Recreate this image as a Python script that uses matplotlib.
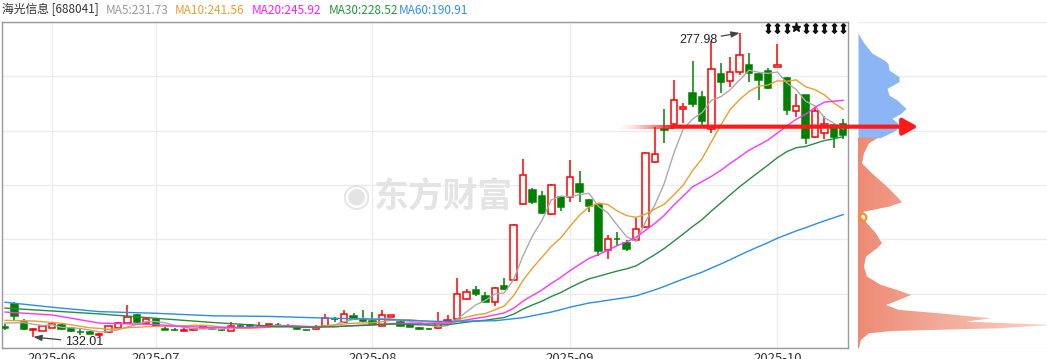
import numpy as np
import pandas as pd
import matplotlib
matplotlib.use('Agg')
import matplotlib.pyplot as plt
import matplotlib.transforms as mtransforms
from matplotlib.path import Path
from matplotlib.collections import LineCollection
from matplotlib.colors import LinearSegmentedColormap, to_rgba

plt.rcParams['font.family'] = ['Noto Sans CJK SC', 'DejaVu Sans']

stock_name = '海光信息 [688041]'

# daily bars, index 0 = first bar on the left
opens = [136.6, 147.9, 139.4, 135.4, 135.0, 136.5, 137.9, 136.2, 134.4, 134.6,
         133.0, 134.3, 136.5, 138.6, 142.6, 138.7, 140.5, 135.9, 135.5, 135.1,
         135.5, 136.2, 136.5, 135.5, 135.1, 137.4, 137.8, 137.2, 137.8, 137.9,
         137.4, 136.7, 135.5, 135.7, 137.4, 140.8, 139.1, 142.1, 140.0, 139.7,
         137.3, 141.8, 139.1, 138.1, 136.3, 136.0, 136.2, 139.7, 140.7, 150.1,
         154.6, 151.8, 148.7, 156.7, 159.4, 195.7, 202.6, 199.7, 190.9, 199.1,
         199.4, 205.5, 197.8, 195.6, 173.6, 179.3, 177.0, 178.5, 184.7, 215.9,
         231.7, 234.3, 241.4, 249.3, 247.1, 231.8, 258.3, 255.1, 259.4, 262.6,
         258.3, 259.8, 261.5, 256.4, 240.5, 248.0, 227.9, 229.8, 233.6, 234.1]
closes = [136.3, 142.3, 135.7, 136.0, 137.3, 138.1, 136.0, 134.9, 134.2, 133.6,
          133.4, 137.3, 138.6, 141.5, 139.4, 140.5, 137.2, 135.6, 135.2, 135.5,
          135.9, 137.2, 135.7, 135.2, 137.3, 137.1, 137.4, 137.5, 138.1, 137.6,
          137.2, 135.7, 135.2, 136.7, 141.3, 140.5, 143.1, 140.7, 139.7, 138.3,
          142.4, 142.6, 137.4, 137.0, 136.0, 135.7, 138.6, 140.2, 152.5, 153.5,
          152.7, 149.0, 155.4, 155.1, 185.8, 209.8, 197.0, 191.7, 205.0, 194.6,
          208.7, 201.8, 195.1, 173.5, 178.9, 179.1, 174.4, 183.7, 220.2, 219.8,
          231.3, 245.8, 242.3, 243.8, 235.7, 260.6, 254.6, 259.1, 267.4, 258.9,
          255.6, 251.8, 262.6, 241.2, 243.1, 227.4, 240.5, 234.3, 228.2, 228.8]
highs = [138.3, 148.8, 140.7, 136.3, 137.8, 138.7, 138.5, 136.8, 135.9, 134.9,
         133.7, 137.5, 139.0, 147.4, 143.1, 141.1, 141.1, 136.8, 136.1, 136.5,
         136.1, 137.5, 136.8, 135.9, 139.4, 138.3, 138.3, 139.2, 138.3, 138.7,
         138.3, 137.1, 135.6, 137.8, 143.1, 141.6, 145.0, 143.4, 145.0, 143.9,
         145.0, 142.8, 139.5, 138.5, 136.6, 136.3, 143.9, 142.6, 160.2, 155.1,
         156.5, 153.5, 156.2, 160.5, 186.3, 217.5, 203.7, 202.3, 205.7, 199.5,
         217.0, 211.7, 198.3, 196.4, 181.2, 182.3, 178.8, 189.3, 221.0, 233.0,
         241.4, 255.4, 244.2, 264.6, 250.3, 274.3, 263.7, 266.6, 277.98, 268.3,
         258.8, 261.2, 272.7, 256.7, 248.7, 248.2, 242.5, 237.9, 233.8, 236.6]
lows = [135.4, 140.2, 135.4, 132.01, 134.7, 136.1, 135.6, 134.4, 133.2, 133.4,
        132.5, 133.9, 136.3, 138.3, 138.7, 138.3, 136.8, 135.4, 134.9, 134.7,
        135.1, 135.9, 135.4, 134.9, 134.9, 136.3, 136.8, 136.8, 136.3, 136.8,
        136.6, 135.4, 134.9, 135.6, 137.1, 139.2, 138.7, 140.4, 139.2, 138.0,
        137.1, 141.6, 137.1, 136.6, 135.6, 135.4, 135.9, 139.5, 140.4, 149.8,
        151.7, 148.6, 147.0, 154.8, 158.9, 195.4, 195.9, 191.3, 190.6, 192.5,
        197.0, 197.0, 192.2, 170.9, 169.3, 175.7, 173.3, 178.1, 184.4, 215.4,
        225.0, 233.8, 234.6, 242.6, 233.5, 229.8, 249.3, 252.2, 257.8, 254.6,
        245.8, 251.1, 261.5, 238.6, 237.7, 224.7, 227.6, 227.1, 222.6, 227.0]

month_idx = [5, 16, 39, 60, 82]
month_labels = ['2025-06', '2025-07', '2025-08', '2025-09', '2025-10']

ma_windows = [5, 10, 20, 30, 60]
ma_last = [231.73, 241.56, 245.92, 228.52, 190.91]
ma_text_colors = ['#999999', '#e8a02e', '#ff19ff', '#22993a', '#2f8fe8']
ma_line_colors = ['#aaaaaa', '#e8a02e', '#ff33ff', '#2a8a45', '#2b8de3']
ma_text_x = [106, 175, 252, 329, 399]
# moving averages before the window is full (history is off the chart)
ma_head_idx = {5: [0, 2, 3], 10: [0, 3, 6], 20: [0, 5, 10, 16],
               30: [0, 5, 10, 16, 22, 28],
               60: [0, 5, 10, 16, 22, 28, 34, 40, 46, 52, 55, 58]}
ma_head_val = {5: [138.7, 138.9, 138.1], 10: [140.0, 139.7, 138.6],
               20: [144.0, 142.6, 138.7, 138.0],
               30: [145.9, 144.5, 143.1, 141.0, 139.0, 137.3],
               60: [148.7, 146.3, 144.2, 143.4, 142.2, 141.9, 141.1, 140.5,
                    139.5, 139.8, 141.3, 144.0]}

low_idx, low_val = 3, 132.01
high_idx, high_val = 78, 277.98
cost_price = 233.0
event_idx = [81, 82, 83, 84, 85, 86, 87, 88, 89]
event_star = [84]

# chip distribution (right panel)
chip_up_price = [277.9, 273.1, 268.3, 265.0, 263.4, 260.2, 257.0, 254.6, 251.4,
                 248.2, 245.8, 241.8, 239.4, 237.0, 234.6, 231.4, 229.0, 227.7]
chip_up_width = [0, 6, 14, 26, 30, 31, 41, 41, 29, 31, 39, 48, 43, 34, 40, 38, 28, 22]
chip_down_price = [227.7, 225.0, 220.2, 215.4, 210.6, 204.2, 199.4, 196.7, 194.6,
                   192.2, 189.8, 186.6, 181.8, 177.0, 174.6, 170.6, 165.8, 161.0,
                   157.0, 154.6, 152.2, 149.8, 147.4, 145.0, 143.4, 141.0, 139.4,
                   137.8, 136.2, 134.9, 133.8, 130.6, 126.7]
chip_down_width = [20, 11, 6, 4, 14, 29, 39, 44, 31, 6, 3, 9, 18, 24, 19, 8, 6, 9,
                   23, 39, 53, 41, 28, 41, 81, 133, 108, 195, 141, 34, 11, 3, 1]
chip_mark_price = 189.8

W, H = 1047, 359
ylo, yhi = 126.73, 283.26
up_c, down_c = '#ff0000', '#008000'

fig = plt.figure(figsize=(W / 100, H / 100), dpi=100)
ax = fig.add_axes([2 / W, 1 - 348 / H, 846 / W, 326 / H])
axp = fig.add_axes([858 / W, 1 - 348 / H, 189 / W, 326 / H])
ax.set_zorder(3)
axp.set_zorder(1)

n = len(closes)
idx = np.arange(n)
o = np.array(opens)
c = np.array(closes)
rising = c >= o
cols = np.where(rising, up_c, down_c)

ax.vlines(idx, lows, highs, colors=cols, lw=1.1, zorder=3)
body_lo = np.minimum(o, c)
body_h = np.maximum(np.abs(c - o), 0.05)
ax.bar(idx, body_h, bottom=body_lo, width=0.68,
       color=np.where(rising, 'white', down_c), edgecolor=cols, lw=1.1, zorder=4)

close_s = pd.Series(closes)
for w, col in zip(ma_windows, ma_line_colors):
    full = close_s.rolling(w).mean()
    xs = list(ma_head_idx[w]) + list(range(w - 1, n))
    ys = list(ma_head_val[w]) + list(full.iloc[w - 1:])
    ax.plot(xs, ys, color=col, lw=1.0, zorder=5)

# faded start of the cost line, then solid arrow into the chip panel
fade_x = np.linspace(65.0, 71.0, 40)
segs = [[(fade_x[k], cost_price), (fade_x[k + 1], cost_price)] for k in range(len(fade_x) - 1)]
fade_cols = [to_rgba('#ff1a1a', a) for a in np.linspace(0.0, 1.0, len(segs)) ** 1.5]
ax.add_collection(LineCollection(segs, colors=fade_cols, lw=3, zorder=6))
ax.annotate('', xy=(60, cost_price), xycoords=axp.transData,
            xytext=(70.9, cost_price), textcoords=ax.transData,
            arrowprops=dict(arrowstyle='-|>,head_length=0.45,head_width=0.25',
                            color='#ff1a1a', lw=3, shrinkA=0, shrinkB=0,
                            mutation_scale=20),
            annotation_clip=False, zorder=7)

# extreme value labels
ax.annotate(f'{low_val:.2f}', xy=(low_idx, low_val), xytext=(6.35, 129.6),
            ha='left', va='center', fontsize=9, color='#222222',
            family=['Liberation Sans', 'DejaVu Sans'],
            arrowprops=dict(arrowstyle='-|>,head_length=0.5,head_width=0.18',
                            color='#444444', lw=0.9, shrinkA=1, shrinkB=0,
                            mutation_scale=10), zorder=8)
ax.annotate(f'{high_val:.2f}', xy=(high_idx, high_val), xytext=(75.6, 274.6),
            ha='right', va='center', fontsize=9, color='#222222',
            family=['Liberation Sans', 'DejaVu Sans'],
            arrowprops=dict(arrowstyle='-|>,head_length=0.5,head_width=0.18',
                            color='#444444', lw=0.9, shrinkA=1, shrinkB=0,
                            mutation_scale=10), zorder=8)

# event markers along the top
tr = mtransforms.blended_transform_factory(ax.transData, ax.transAxes)
updown = Path([(0, 1), (0.45, 0.55), (0.18, 0.55), (0.18, -0.55), (0.45, -0.55), (0, -1),
               (-0.45, -0.55), (-0.18, -0.55), (-0.18, 0.55), (-0.45, 0.55), (0, 1)])
plain = [i for i in event_idx if i not in event_star]
ax.plot(plain, [0.982] * len(plain), ls='none', marker=updown, ms=7, color='#111111',
        transform=tr, zorder=8, clip_on=False)
ax.plot(event_star, [0.985] * len(event_star), ls='none', marker='*', ms=6.5,
        color='#111111', transform=tr, zorder=8, clip_on=False)

# watermark
ax.text(0.44, 0.465, '东方财富', transform=ax.transAxes, fontsize=25, fontweight='bold',
        color='#e4e4e4', ha='left', va='center', zorder=1)
ax.text(0.418, 0.465, '◉', transform=ax.transAxes, fontsize=24,
        color='#e4e4e4', ha='center', va='center', zorder=1,
        family=['DejaVu Sans'])

ax.set_xlim(-0.32, 89.5)
ax.set_ylim(ylo, yhi)
levels = np.linspace(ylo, yhi, 7)
ax.set_yticks(levels)
ax.set_yticklabels([])
ax.set_xticks(month_idx)
ax.set_xticklabels(month_labels)
ax.tick_params(length=0, pad=3, labelsize=9.5, colors='#333333')
ax.grid(True, color='#ececec', lw=1)
ax.set_axisbelow(True)
for s in ax.spines.values():
    s.set_color('#9a9a9a')
    s.set_linewidth(1)

# chip panel
axp.fill_betweenx(chip_up_price, 0, chip_up_width, color='#8cb5f6', lw=0, zorder=2)
poly = axp.fill_betweenx(chip_down_price, 0, chip_down_width, facecolor='none',
                         edgecolor='none', zorder=2)
cmap = LinearSegmentedColormap.from_list('chip', ['#ee8a74', '#f9d3c7'])
im = axp.imshow(np.linspace(0, 1, 256).reshape(1, -1), cmap=cmap, aspect='auto',
                extent=[0, 189, ylo, yhi], origin='lower', zorder=2)
im.set_clip_path(poly.get_paths()[0], transform=axp.transData)
axp.plot([4], [chip_mark_price], ls='none', marker='o', ms=5.5, mfc='none',
         mec='#ff8c1a', mew=1.5, zorder=4)
axp.set_xlim(0, 189)
axp.set_ylim(ylo, yhi)
axp.set_yticks(levels)
axp.set_xticks([])
axp.tick_params(length=0, labelleft=False)
axp.grid(True, axis='y', color='#ececec', lw=1)
axp.set_axisbelow(True)
for s in axp.spines.values():
    s.set_visible(False)

# title row
fig.text(2 / W, 1 - 10 / H, stock_name, fontsize=8.5, color='#333333', va='center')
for w, val, col, xp in zip(ma_windows, ma_last, ma_text_colors, ma_text_x):
    fig.text(xp / W, 1 - 10 / H, f'MA{w}:{val:.2f}', fontsize=8.5, color=col, va='center')

fig.savefig('out.png', dpi=100)
